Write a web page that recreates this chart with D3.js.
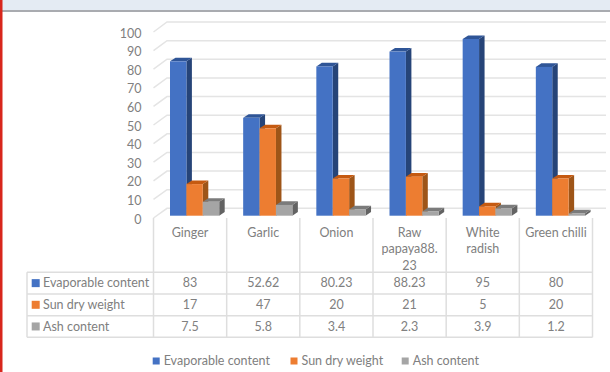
<!DOCTYPE html>
<html>
<head>
<meta charset="utf-8">
<script src="https://cdn.jsdelivr.net/npm/d3@7"></script>
<style>
  html, body { margin: 0; padding: 0; background: #fff; overflow: hidden; }
  text { font-family: Lato, "Open Sans", sans-serif; fill: #808080; }
</style>
</head>
<body>
<div id="chart"></div>
<script>
const categories = ["Ginger", "Garlic", "Onion", "Raw papaya88.23", "White radish", "Green chilli"];
const categoryLines = [["Ginger"], ["Garlic"], ["Onion"], ["Raw", "papaya88.", "23"], ["White", "radish"], ["Green chilli"]];
const seriesNames = ["Evaporable content", "Sun dry weight", "Ash content"];
const evaporable = [83, 52.62, 80.23, 88.23, 95, 80];
const sunDry = [17, 47, 20, 21, 5, 20];
const ash = [7.5, 5.8, 3.4, 2.3, 3.9, 1.2];
const yTicks = [0, 10, 20, 30, 40, 50, 60, 70, 80, 90, 100];

const seriesValues = [evaporable, sunDry, ash];
const frontColors = ["#4472c4", "#ed7d31", "#a5a5a5"];
const sideColors = ["#264478", "#9e5518", "#636363"];
const topColors = ["#2f5597", "#c55a11", "#7b7b7b"];
const gridColor = "#e4e4e4";
const tableColor = "#dedede";

const width = 610;
const height = 372;

const svg = d3.select("#chart").append("svg")
  .attr("width", width)
  .attr("height", height);

// window chrome around the chart
svg.append("rect").attr("width", width).attr("height", 10).attr("fill", "#e4ebf3");
svg.append("rect").attr("y", 10).attr("width", width).attr("height", 2).attr("fill", "#a9abb0");
svg.append("rect").attr("width", 2.5).attr("height", height).attr("fill", "#d8261c");

// x positions come from the table columns, y from the three planes of the 3d box
const x = d3.scaleBand().domain(categories).range([153.5, 592.5]);
const series = d3.scaleBand().domain(seriesNames).range([16.5, 65.7]);
const yFront = d3.scaleLinear().domain([0, 100]).range([218, 32]);
const yBack = d3.scaleLinear().domain([0, 100]).range([208.3, 22]);
const yBar = d3.scaleLinear().domain([0, 100]).range([215.7, 29.7]);
const depthX = 5.5;
const depthY = 3.6;
const wallX = 167;
const wallRight = 606;

// gridlines on the back wall and the floor edge
const grid = svg.append("g").attr("fill", "none").attr("stroke", gridColor).attr("stroke-width", 1.5);
grid.selectAll("path")
  .data(yTicks)
  .join("path")
  .attr("d", (d) => `M${x.range()[0]},${yFront(d)}L${wallX},${yBack(d)}H${wallRight}`);

// y axis labels
const axis = svg.append("g")
  .attr("transform", "translate(153.5,1)")
  .call(d3.axisLeft(yFront).tickValues(yTicks).tickSize(0).tickPadding(12));
axis.select(".domain").remove();
axis.selectAll("text").style("font-family", "Lato, sans-serif").style("font-size", "12.5px");

// bars, one group per series so later series sit in front
seriesNames.forEach((name, s) => {
  const rows = categories.map((c, i) => ({ c, value: seriesValues[s][i] }));
  const left = (d) => x(d.c) + series(name);
  const right = (d) => left(d) + series.bandwidth();
  const g = svg.append("g");

  g.selectAll(".side")
    .data(rows)
    .join("path")
    .attr("fill", sideColors[s])
    .attr("d", (d) => `M${right(d)},${yBar(0)}V${yBar(d.value)}l${depthX},${-depthY}V${yBar(0) - depthY}Z`);

  g.selectAll(".top")
    .data(rows)
    .join("path")
    .attr("fill", topColors[s])
    .attr("d", (d) => `M${left(d)},${yBar(d.value)}l${depthX},${-depthY}H${right(d) + depthX}l${-depthX},${depthY}Z`);

  g.selectAll("rect")
    .data(rows)
    .join("rect")
    .attr("x", left)
    .attr("y", (d) => yBar(d.value))
    .attr("width", series.bandwidth())
    .attr("height", (d) => yBar(0) - yBar(d.value))
    .attr("fill", frontColors[s]);
});

// data table below the plot
const tableLeft = 27;
const headerTop = yFront(0);
const rowY = d3.scaleBand().domain(seriesNames).range([272.3, 337.3]);
const table = svg.append("g").attr("stroke", tableColor).attr("stroke-width", 1.5).attr("fill", "none");

x.domain().concat([null]).forEach((c) => {
  const px = c === null ? x.range()[1] : x(c);
  table.append("line").attr("x1", px).attr("x2", px).attr("y1", headerTop).attr("y2", rowY.range()[1]);
});
[...seriesNames.map((n) => rowY(n)), rowY.range()[1]].forEach((py) => {
  table.append("line").attr("x1", tableLeft).attr("x2", x.range()[1]).attr("y1", py).attr("y2", py);
});
table.append("line").attr("x1", tableLeft).attr("x2", tableLeft).attr("y1", rowY.range()[0]).attr("y2", rowY.range()[1]);

const fontSize = "12.5px";

categories.forEach((c, i) => {
  svg.append("text")
    .attr("text-anchor", "middle")
    .attr("font-size", fontSize)
    .selectAll("tspan")
    .data(categoryLines[i])
    .join("tspan")
    .attr("x", x(c) + x.bandwidth() / 2)
    .attr("y", (d, k) => 236.5 + k * 16.7)
    .text((d) => d);
});

seriesNames.forEach((name, s) => {
  const cy = rowY(name) + rowY.bandwidth() / 2;
  svg.append("rect")
    .attr("x", 31.7).attr("y", cy - 4)
    .attr("width", 8).attr("height", 8)
    .attr("fill", frontColors[s]);
  svg.append("text")
    .attr("x", 43).attr("y", cy + 4.3)
    .attr("font-size", fontSize)
    .text(name);
  categories.forEach((c, i) => {
    svg.append("text")
      .attr("x", x(c) + x.bandwidth() / 2)
      .attr("y", cy + 4.3)
      .attr("text-anchor", "middle")
      .attr("font-size", fontSize)
      .text(seriesValues[s][i]);
  });
});

// legend along the bottom
const legendX = d3.scaleOrdinal().domain(seriesNames).range([152.7, 290.5, 401.7]);
seriesNames.forEach((name, s) => {
  svg.append("rect")
    .attr("x", legendX(name)).attr("y", 357.5)
    .attr("width", 7).attr("height", 7)
    .attr("fill", frontColors[s]);
  svg.append("text")
    .attr("x", legendX(name) + 11)
    .attr("y", 365.3)
    .attr("font-size", fontSize)
    .text(name);
});
</script>
</body>
</html>
